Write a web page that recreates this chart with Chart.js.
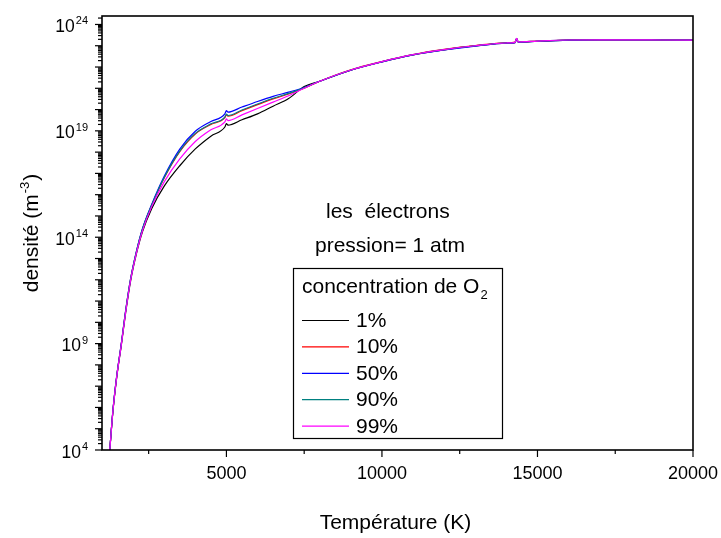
<!DOCTYPE html>
<html>
<head>
<meta charset="utf-8">
<script src="https://cdn.jsdelivr.net/npm/chart.js@4.4.0/dist/chart.umd.min.js"></script>
<style>
    html, body { margin: 0; padding: 0; background: #fff; }
</style>
</head>
<body>
<canvas id="myChart" width="721" height="538"></canvas>
<script>
// Temperatures (K) and log10 of electron density (m^-3)
var temperatures = [1250, 1350, 1470, 1620, 1760, 1920, 2100, 2300, 2600, 3000, 3500, 4000, 4500, 4950, 5000, 5050,
    5500, 6000, 6500, 7000, 7500, 8000, 9000, 10000, 11000, 12000, 13000, 14000, 14280, 14330, 14380,
    15000, 16000, 17000, 18000, 19000, 20000];

var logO2_1 = [4.0, 5.8, 7.38, 8.92, 10.45, 11.95, 13.18, 14.25, 15.35, 16.4, 17.36, 18.15, 18.75, 19.18, 19.34, 19.27,
    19.52, 19.8, 20.16, 20.52, 21.08, 21.33, 21.85, 22.24, 22.57, 22.81, 22.99, 23.12, 23.15, 23.32, 23.17,
    23.21, 23.26, 23.28, 23.28, 23.27, 23.26];
var logO2_10 = [4.0, 5.82, 7.42, 8.97, 10.52, 12.03, 13.27, 14.36, 15.5, 16.78, 18.02, 18.85, 19.3, 19.62, 19.76, 19.69,
    19.95, 20.23, 20.5, 20.73, 21.0, 21.33, 21.87, 22.26, 22.59, 22.83, 23.01, 23.14, 23.17, 23.34, 23.19,
    23.22, 23.27, 23.28, 23.28, 23.27, 23.26];
var logO2_50 = [4.0, 5.85, 7.45, 9.0, 10.55, 12.05, 13.3, 14.4, 15.55, 16.86, 18.14, 18.98, 19.44, 19.8, 19.95, 19.88,
    20.12, 20.38, 20.62, 20.82, 21.04, 21.33, 21.85, 22.24, 22.57, 22.8, 22.98, 23.12, 23.15, 23.33, 23.17,
    23.21, 23.26, 23.28, 23.28, 23.27, 23.26];
var logO2_90 = [4.0, 5.83, 7.43, 8.98, 10.53, 12.04, 13.28, 14.38, 15.52, 16.81, 18.05, 18.88, 19.33, 19.65, 19.79, 19.72,
    19.98, 20.26, 20.53, 20.76, 21.02, 21.33, 21.86, 22.25, 22.58, 22.82, 23.0, 23.13, 23.16, 23.34, 23.18,
    23.22, 23.27, 23.28, 23.28, 23.27, 23.26];
var logO2_99 = [4.0, 5.81, 7.4, 8.94, 10.48, 11.99, 13.22, 14.3, 15.45, 16.6, 17.68, 18.5, 19.05, 19.42, 19.56, 19.48,
    19.75, 20.05, 20.35, 20.65, 21.0, 21.33, 21.86, 22.25, 22.58, 22.82, 23.0, 23.13, 23.16, 23.35, 23.18,
    23.22, 23.27, 23.28, 23.28, 23.27, 23.26];

var seriesNames = ['1%', '10%', '50%', '90%', '99%'];
var seriesColors = ['#000000', '#ff0000', '#0000ff', '#008080', '#ff00ff'];
var seriesLogs = [logO2_1, logO2_10, logO2_50, logO2_90, logO2_99];

var xMajorTicks = [5000, 10000, 15000, 20000];
var xMinorTicks = [2500, 7500, 12500, 17500];
var yLabelExponents = [4, 9, 14, 19, 24];

var FONT = '"Liberation Sans", Arial, sans-serif';

var toPoints = function (logs) {
    var pts = [];
    for (var i = 0; i < temperatures.length; i++) {
        pts.push({ x: temperatures[i], y: Math.pow(10, logs[i]) });
    }
    return pts;
};

var datasets = [];
for (var i = 0; i < seriesNames.length; i++) {
    datasets.push({
        label: seriesNames[i],
        data: toPoints(seriesLogs[i]),
        borderColor: seriesColors[i],
        backgroundColor: seriesColors[i],
        borderWidth: 1.2,
        pointRadius: 0,
        showLine: true,
        cubicInterpolationMode: 'monotone',
        order: seriesNames.length - i
    });
}

// text with a raised (sup) or lowered (sub) part
var drawMixed = function (ctx, x, y, base, small, size, smallSize, shift) {
    ctx.font = size + 'px ' + FONT;
    ctx.fillText(base, x, y);
    var w = ctx.measureText(base).width;
    ctx.font = smallSize + 'px ' + FONT;
    ctx.fillText(small, x + w + 1, y + shift);
    return w + 1 + ctx.measureText(small).width;
};

var axesPlugin = {
    id: 'originAxes',
    afterDraw: function (chart) {
        var ctx = chart.ctx;
        var area = chart.chartArea;
        var xs = chart.scales.x;
        var ys = chart.scales.y;
        ctx.save();
        ctx.fillStyle = '#000';
        ctx.strokeStyle = '#000';
        ctx.textBaseline = 'alphabetic';

        // frame
        ctx.lineWidth = 1.6;
        ctx.strokeRect(area.left, area.top, area.right - area.left, area.bottom - area.top);

        // y ticks: decades and 2..9 minors
        ctx.lineWidth = 1.2;
        for (var e = 4; e <= 24; e++) {
            var py = ys.getPixelForValue(Math.pow(10, e));
            ctx.beginPath(); ctx.moveTo(area.left - 7, py); ctx.lineTo(area.left, py); ctx.stroke();
            for (var m = 2; m <= 9; m++) {
                var v = m * Math.pow(10, e);
                if (v > ys.max) break;
                var pm = ys.getPixelForValue(v);
                ctx.beginPath(); ctx.moveTo(area.left - 4, pm); ctx.lineTo(area.left, pm); ctx.stroke();
            }
        }
        // y labels 10^n
        yLabelExponents.forEach(function (n) {
            var py = ys.getPixelForValue(Math.pow(10, n));
            ctx.font = '17.5px ' + FONT;
            var w1 = ctx.measureText('10').width;
            ctx.font = '11px ' + FONT;
            var w2 = ctx.measureText(String(n)).width;
            ctx.textAlign = 'left';
            drawMixed(ctx, 88 - w2 - 1 - w1, py + 7.5, '10', String(n), 17.5, 11, -7.5);
        });

        // x ticks
        xMajorTicks.forEach(function (t) {
            var px = xs.getPixelForValue(t);
            ctx.beginPath(); ctx.moveTo(px, area.bottom); ctx.lineTo(px, area.bottom + 7); ctx.stroke();
            ctx.font = '18px ' + FONT;
            ctx.textAlign = 'center';
            ctx.fillText(String(t), px, 479);
        });
        xMinorTicks.forEach(function (t) {
            var px = xs.getPixelForValue(t);
            ctx.beginPath(); ctx.moveTo(px, area.bottom); ctx.lineTo(px, area.bottom + 4); ctx.stroke();
        });

        // axis titles
        ctx.textAlign = 'center';
        ctx.font = '21px ' + FONT;
        ctx.fillText('Température (K)', (area.left + area.right) / 2 - 2, 529);

        ctx.save();
        ctx.translate(38, (area.top + area.bottom) / 2);
        ctx.rotate(-Math.PI / 2);
        ctx.font = '21px ' + FONT;
        var t1 = 'densité (m', t3 = ')';
        var w1 = ctx.measureText(t1).width;
        var w3 = ctx.measureText(t3).width;
        ctx.font = '13px ' + FONT;
        var w2 = ctx.measureText('-3').width;
        var x0 = -(w1 + w2 + w3 + 2) / 2;
        ctx.textAlign = 'left';
        drawMixed(ctx, x0, 0, t1, '-3', 21, 13, -9);
        ctx.font = '21px ' + FONT;
        ctx.fillText(t3, x0 + w1 + w2 + 2, 0);
        ctx.restore();

        // annotations
        ctx.textAlign = 'left';
        ctx.font = '21px ' + FONT;
        ctx.fillText('les  électrons', 326, 218);
        ctx.fillText('pression= 1 atm', 315, 252);

        // legend box
        ctx.lineWidth = 1.2;
        ctx.strokeRect(293.5, 268.5, 209, 170);
        drawMixed(ctx, 302, 293, 'concentration de O', '2', 21, 13, 6);
        for (var k = 0; k < seriesNames.length; k++) {
            var by = 327 + k * 26.4;
            ctx.strokeStyle = seriesColors[k];
            ctx.lineWidth = 1.2;
            ctx.beginPath(); ctx.moveTo(302, by - 6.5); ctx.lineTo(349, by - 6.5); ctx.stroke();
            ctx.font = '21px ' + FONT;
            ctx.fillStyle = '#000';
            ctx.fillText(seriesNames[k], 356, by);
        }
        ctx.restore();
    }
};

var config = {
    type: 'scatter',
    data: { datasets: datasets },
    options: {
        responsive: false,
        devicePixelRatio: 1,
        animation: false,
        layout: { padding: { left: 102, top: 16, right: 28, bottom: 88 } },
        scales: {
            x: { type: 'linear', min: 1000, max: 20000, display: false },
            y: { type: 'logarithmic', min: 1e4, max: 2.5e24, display: false }
        },
        plugins: {
            legend: { display: false },
            tooltip: { enabled: false }
        }
    },
    plugins: [axesPlugin]
};

var ctx = document.getElementById('myChart').getContext('2d');
var myChart = new Chart(ctx, config);
</script>
</body>
</html>
